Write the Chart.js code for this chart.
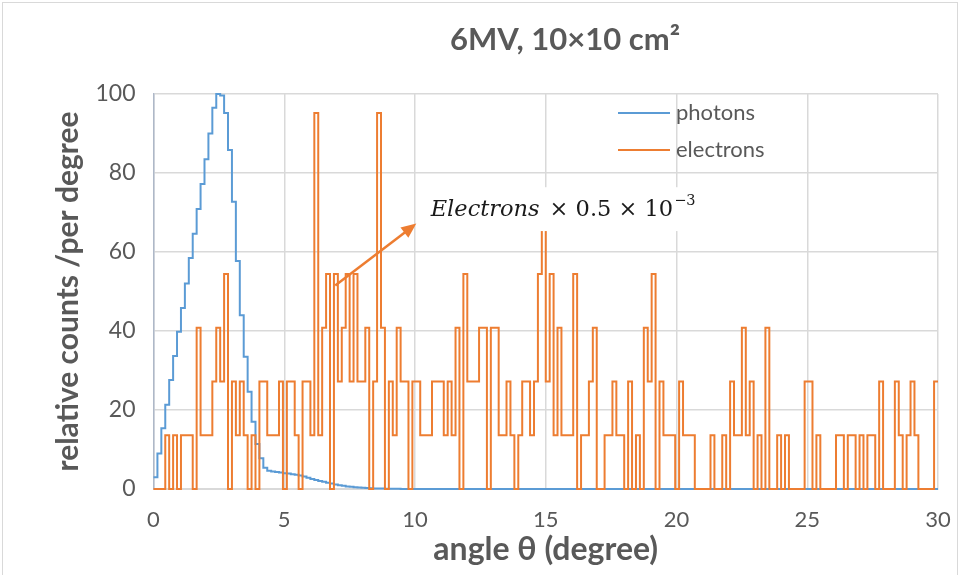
<!DOCTYPE html>
<html>
<head>
<meta charset="utf-8">
<script src="https://cdn.jsdelivr.net/npm/chart.js@4/dist/chart.umd.min.js"></script>
<style>
  html, body { margin: 0; padding: 0; background: #fff; }
  #chart { display: block; }
</style>
</head>
<body>
<canvas id="chart" width="961" height="575"></canvas>
<script>
// Angular histogram, bins of 0.15 degree from 0 to 30
const binWidth = 0.15;
const xMax = 30;

// photons, relative counts per bin
const photons = [
  3, 9, 15.4, 21.3, 27.6, 33.7, 39.8, 45.8, 52, 58.5,
  64.6, 70.9, 77.2, 83.5, 90, 96.5, 100, 99.6, 95.2, 85.8,
  72.7, 57.7, 44, 33.5, 24.6, 17, 11.4, 7.8, 5.4, 4.6,
  4.4, 4.3, 4.15, 4, 3.9, 3.75, 3.6, 3.4, 3.15, 2.85,
  2.55, 2.3, 2.05, 1.85, 1.6, 1.4, 1.15, 0.95, 0.8, 0.65,
  0.55, 0.45, 0.38, 0.3, 0.25, 0.2, 0.15, 0.12, 0.1, 0.08,
  0.06, 0.05, 0.04, 0.03, 0.02, 0.01, 0.01, 0, 0, 0,
  0, 0, 0, 0, 0, 0, 0, 0, 0, 0,
  0, 0, 0, 0, 0, 0, 0, 0, 0, 0,
  0, 0, 0, 0, 0, 0, 0, 0, 0, 0,
  0, 0, 0, 0, 0, 0, 0, 0, 0, 0,
  0, 0, 0, 0, 0, 0, 0, 0, 0, 0,
  0, 0, 0, 0, 0, 0, 0, 0, 0, 0,
  0, 0, 0, 0, 0, 0, 0, 0, 0, 0,
  0, 0, 0, 0, 0, 0, 0, 0, 0, 0,
  0, 0, 0, 0, 0, 0, 0, 0, 0, 0,
  0, 0, 0, 0, 0, 0, 0, 0, 0, 0,
  0, 0, 0, 0, 0, 0, 0, 0, 0, 0,
  0, 0, 0, 0, 0, 0, 0, 0, 0, 0,
  0, 0, 0, 0, 0, 0, 0, 0, 0, 0
];

// electrons (scaled), per bin
const electrons = [
  0, 0, 0, 13.6, 0, 13.6, 0, 13.6, 13.6, 13.6, 0, 40.8, 13.6, 13.6, 13.6, 27.2, 40.8, 27.2, 54.4, 0,
  27.2, 13.6, 27.2, 13.6, 0, 13.6, 0, 27.2, 27.2, 13.6, 13.6, 13.6, 27.2, 0, 27.2, 27.2, 13.6, 0, 27.2, 27.2,
  13.6, 95.2, 13.6, 40.8, 54.4, 0, 54.4, 27.2, 40.8, 54.4, 27.2, 54.4, 27.2, 27.2, 40.8, 0, 27.2, 95.2, 40.8, 0,
  27.2, 13.6, 40.8, 27.2, 27.2, 0, 27.2, 27.2, 13.6, 13.6, 13.6, 27.2, 27.2, 27.2, 13.6, 27.2, 13.6, 40.8, 0, 54.4,
  27.2, 27.2, 27.2, 40.8, 40.8, 0, 40.8, 40.8, 13.6, 13.6, 27.2, 13.6, 0, 13.6, 27.2, 27.2, 13.6, 27.2, 54.4, 68,
  27.2, 54.4, 13.6, 40.8, 13.6, 13.6, 13.6, 54.4, 0, 13.6, 13.6, 27.2, 40.8, 0, 0, 13.6, 13.6, 27.2, 13.6, 13.6,
  0, 27.2, 0, 13.6, 0, 40.8, 27.2, 54.4, 0, 27.2, 13.6, 13.6, 13.6, 0, 27.2, 13.6, 13.6, 13.6, 0, 0,
  0, 0, 13.6, 0, 0, 13.6, 0, 27.2, 13.6, 13.6, 40.8, 13.6, 27.2, 0, 13.6, 0, 40.8, 0, 0, 13.6,
  0, 13.6, 0, 0, 0, 0, 27.2, 27.2, 0, 13.6, 0, 0, 0, 0, 13.6, 13.6, 0, 13.6, 13.6, 0,
  13.6, 0, 13.6, 13.6, 0, 27.2, 0, 0, 0, 27.2, 13.6, 0, 13.6, 27.2, 13.6, 0, 0, 0, 0, 27.2
];

const seriesNames = ['photons', 'electrons'];
const xTickValues = [0, 5, 10, 15, 20, 25, 30];
const yTickValues = [0, 20, 40, 60, 80, 100];

const blue = '#5B9BD5';
const orange = '#ED7D31';
const textGrey = '#595959';
const font = 'Lato';

// left edge of every bin plus a closing point at the end
function histPoints(values) {
  const pts = values.map((v, i) => ({ x: +(i * binWidth).toFixed(2), y: v }));
  pts.push({ x: xMax, y: values[values.length - 1] });
  return pts;
}

// title, legend, arrow note and frame
const extras = {
  id: 'extras',
  beforeDraw(chart) {
    const ctx = chart.ctx;
    ctx.save();
    ctx.fillStyle = '#fff';
    ctx.fillRect(0, 0, chart.width, chart.height);
    ctx.strokeStyle = '#d9d9d9';
    ctx.lineWidth = 1;
    ctx.strokeRect(2.5, 2.5, 955, 600);
    ctx.restore();
  },
  afterDatasetsDraw(chart) {
    const { ctx, scales: { x, y } } = chart;
    ctx.save();

    // chart title
    ctx.fillStyle = textGrey;
    ctx.font = 'bold 31px ' + font;
    ctx.textAlign = 'center';
    ctx.textBaseline = 'middle';
    ctx.fillText('6MV, 10×10 cm²', 565, 40);

    // legend
    ctx.font = '22px ' + font;
    ctx.textAlign = 'left';
    [blue, orange].forEach((c, i) => {
      const ly = 113 + i * 37;
      ctx.strokeStyle = c;
      ctx.lineWidth = 2;
      ctx.beginPath();
      ctx.moveTo(618, ly);
      ctx.lineTo(670, ly);
      ctx.stroke();
      ctx.fillText(seriesNames[i], 676, ly);
    });

    // white box behind the scale note
    const bx0 = x.getPixelForValue(10.2), bx1 = x.getPixelForValue(21.1);
    const by0 = y.getPixelForValue(76.4), by1 = y.getPixelForValue(65.3);
    ctx.fillStyle = '#fff';
    ctx.fillRect(bx0, by0, bx1 - bx0, by1 - by0);

    // "Electrons × 0.5 × 10^-3"
    let tx = x.getPixelForValue(10.6);
    const ty = y.getPixelForValue(69.0);
    ctx.fillStyle = '#1a1a1a';
    ctx.textBaseline = 'alphabetic';
    ctx.font = 'italic 22.5px "DejaVu Serif"';
    ctx.fillText('Electrons', tx, ty);
    tx += ctx.measureText('Electrons').width + 10;
    ctx.font = '22.5px "DejaVu Serif"';
    ctx.fillText('× 0.5 × 10', tx, ty);
    tx += ctx.measureText('× 0.5 × 10').width + 1;
    ctx.font = '14.5px "DejaVu Serif"';
    ctx.fillText('−3', tx, ty - 11);

    // arrow from the electron bars to the note
    const ax0 = x.getPixelForValue(6.95), ay0 = y.getPixelForValue(51.5);
    const ax1 = x.getPixelForValue(10.05), ay1 = y.getPixelForValue(67.2);
    const ang = Math.atan2(ay1 - ay0, ax1 - ax0);
    ctx.strokeStyle = orange;
    ctx.fillStyle = orange;
    ctx.lineWidth = 2.5;
    ctx.beginPath();
    ctx.moveTo(ax0, ay0);
    ctx.lineTo(ax1 - 10 * Math.cos(ang), ay1 - 10 * Math.sin(ang));
    ctx.stroke();
    ctx.beginPath();
    ctx.moveTo(ax1, ay1);
    ctx.lineTo(ax1 - 15 * Math.cos(ang) + 6.5 * Math.sin(ang), ay1 - 15 * Math.sin(ang) - 6.5 * Math.cos(ang));
    ctx.lineTo(ax1 - 15 * Math.cos(ang) - 6.5 * Math.sin(ang), ay1 - 15 * Math.sin(ang) + 6.5 * Math.cos(ang));
    ctx.closePath();
    ctx.fill();

    ctx.restore();
  }
};

new Chart(document.getElementById('chart').getContext('2d'), {
  type: 'line',
  data: {
    datasets: [
      {
        label: seriesNames[0],
        data: histPoints(photons),
        borderColor: blue,
        borderWidth: 2,
        stepped: 'before',
        pointRadius: 0,
        clip: 4,
        order: 1
      },
      {
        label: seriesNames[1],
        data: histPoints(electrons),
        borderColor: orange,
        borderWidth: 2,
        stepped: 'before',
        pointRadius: 0,
        clip: 4,
        order: 0
      }
    ]
  },
  options: {
    responsive: false,
    animation: false,
    layout: { padding: { left: 0, right: 23, top: 94, bottom: 0 } },
    plugins: {
      legend: { display: false },
      tooltip: { enabled: false }
    },
    scales: {
      x: {
        type: 'linear',
        min: 0,
        max: xMax,
        afterFit: (s) => { s.height = 86; },
        afterBuildTicks: (s) => { s.ticks = xTickValues.map(v => ({ value: v })); },
        // invisible tick marks push the labels down without widening the side padding
        grid: { color: '#d9d9d9', lineWidth: 1.5, drawTicks: true, tickLength: 16, tickColor: 'rgba(0,0,0,0)' },
        border: { color: '#d9d9d9' },
        ticks: { color: textGrey, font: { family: font, size: 22 }, padding: 2 },
        title: {
          display: true,
          text: 'angle θ (degree)',
          color: textGrey,
          font: { family: font, size: 32, weight: 'bold' },
          padding: { top: 0, bottom: 6 }
        }
      },
      y: {
        min: 0,
        max: 100,
        afterFit: (s) => { s.width = 153.5; },
        afterBuildTicks: (s) => { s.ticks = yTickValues.map(v => ({ value: v })); },
        grid: { color: '#d9d9d9', lineWidth: 1.5, drawTicks: false },
        border: { color: '#aeb8c8', width: 1.5 },
        ticks: { color: textGrey, font: { family: font, size: 23 }, padding: 18 },
        title: {
          display: true,
          text: 'relative counts /per degree',
          color: textGrey,
          font: { family: font, size: 30, weight: 'bold' },
          padding: { top: 50, bottom: 0 }
        }
      }
    }
  },
  plugins: [extras]
});
</script>
</body>
</html>
